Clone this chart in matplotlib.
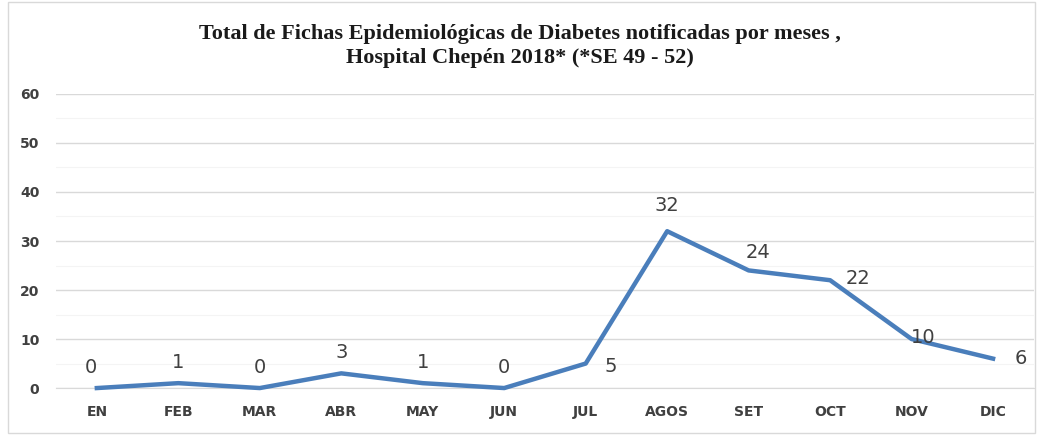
import matplotlib.pyplot as plt
from matplotlib.patches import Rectangle

meses = ['EN', 'FEB', 'MAR', 'ABR', 'MAY', 'JUN', 'JUL', 'AGOS', 'SET', 'OCT', 'NOV', 'DIC']
fichas = [0, 1, 0, 3, 1, 0, 5, 32, 24, 22, 10, 6]

# offsets (points) for each data label, like the Excel placement
offsets = [(-4, 8), (0, 8), (0, 8), (0, 8), (0, 8), (0, 8),
           (18, -2), (0, 12), (7, 6), (20, 1), (8, 1), (20, 0)]

fig = plt.figure(figsize=(10.39, 4.37), dpi=100)
ax = fig.add_axes([0.054, 0.112, 0.941, 0.673])

x = range(len(meses))
ax.plot(x, fichas, color='#4a7ebb', linewidth=3.2, solid_joinstyle='round', clip_on=False, zorder=3)

for i, v in enumerate(fichas):
    ax.annotate(str(v), (i, v), xytext=offsets[i], textcoords='offset points',
                ha='center', va='bottom' if offsets[i][1] > 4 else 'center',
                fontsize=14, color='#404040', family='DejaVu Sans', zorder=4)

ax.set_xlim(-0.5, len(meses) - 0.5)
ax.set_ylim(0, 60)
ax.set_yticks(range(0, 61, 10))
ax.set_yticks(range(5, 60, 10), minor=True)
ax.set_xticks(list(x))
ax.set_xticklabels(meses)
ax.grid(axis='y', which='major', color='#d9d9d9', linewidth=1)
ax.grid(axis='y', which='minor', color='#f4f4f4', linewidth=0.8)
ax.set_axisbelow(True)
ax.tick_params(axis='both', which='both', length=0, labelsize=10, labelcolor='#404040', pad=12)
for lab in ax.get_xticklabels() + ax.get_yticklabels():
    lab.set_fontweight('bold')
for s in ['top', 'right', 'left']:
    ax.spines[s].set_visible(False)
ax.spines['bottom'].set_color('#d9d9d9')

fig.text(0.5, 0.945, 'Total de Fichas Epidemiológicas de Diabetes notificadas por meses ,\nHospital Chepén 2018* (*SE 49 - 52)',
         ha='center', va='top', fontsize=16, fontweight='bold', family='Liberation Serif',
         linespacing=1.25, color='#1a1a1a')

fig.patches.append(Rectangle((0.008, 0.01), 0.988, 0.985, transform=fig.transFigure,
                             fill=False, edgecolor='#d9d9d9', linewidth=1))

fig.savefig('out.png', dpi=100, facecolor='white')
